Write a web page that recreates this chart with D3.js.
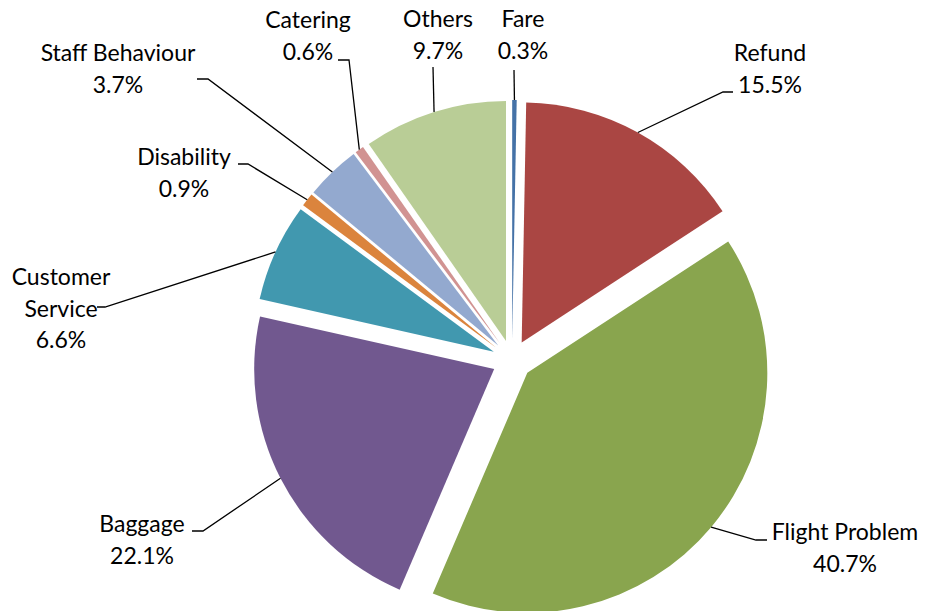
<!DOCTYPE html>
<html>
<head>
<meta charset="utf-8">
<script src="https://cdn.jsdelivr.net/npm/d3@7"></script>
<style>
  html, body { margin: 0; padding: 0; background: #ffffff; }
  svg { display: block; }
  text { font-family: Lato, "Open Sans", sans-serif; font-size: 23px; fill: #000; }
</style>
</head>
<body>
<svg id="chart" width="925" height="611"></svg>
<script>
// Complaint categories, clockwise from 12 o'clock
const categories = ["Fare", "Refund", "Flight Problem", "Baggage", "Customer Service",
                    "Disability", "Staff Behaviour", "Catering", "Others"];
const shares = [0.3, 15.5, 40.7, 22.1, 6.6, 0.9, 3.7, 0.6, 9.7];
const labelLines = [["Fare"], ["Refund"], ["Flight Problem"], ["Baggage"], ["Customer", "Service"],
                    ["Disability"], ["Staff Behaviour"], ["Catering"], ["Others"]];
const colors = ["#4572A7", "#AA4643", "#89A54E", "#71588F", "#4198AF",
                "#DB843D", "#93A9CF", "#D19392", "#B9CD96"];

// Label layout: text centre x, first baseline y, and leader start / elbow points
const labelLayout = [
  { x: 523, y: 27,  start: [514, 70],  elbow: null },
  { x: 770, y: 61,  start: [733, 92],  elbow: [723, 92] },
  { x: 845, y: 540, start: [767, 540], elbow: [756, 540] },
  { x: 142, y: 532, start: [192, 531], elbow: [203, 531] },
  { x: 61,  y: 285, start: [97, 307],  elbow: [105, 307] },
  { x: 184, y: 165, start: [238, 164], elbow: [248, 164] },
  { x: 118, y: 61,  start: [197, 79],  elbow: [208, 79] },
  { x: 308, y: 28,  start: [338, 60],  elbow: [349, 60] },
  { x: 438, y: 27,  start: [433, 67],  elbow: null }
];

const cx = 512, cy = 360, radius = 240, explode = 20, lineGap = 31.5;

const svg = d3.select("#chart");
const data = categories.map((c, i) => ({ name: c, value: shares[i], i }));

const pie = d3.pie().sort(null).value(d => d.value).startAngle(0).endAngle(2 * Math.PI);
const arc = d3.arc().innerRadius(0).outerRadius(radius);
const arcs = pie(data);

const root = svg.append("g").attr("transform", `translate(${cx},${cy})`);

// Each slice is pulled out along its bisector
arcs.forEach(a => {
  const mid = (a.startAngle + a.endAngle) / 2;
  a.dx = explode * Math.sin(mid);
  a.dy = -explode * Math.cos(mid);
  a.tipX = cx + a.dx + radius * Math.sin(mid);
  a.tipY = cy + a.dy - radius * Math.cos(mid);
});

root.selectAll("path.slice")
  .data(arcs)
  .join("path")
  .attr("class", "slice")
  .attr("d", arc)
  .attr("transform", d => `translate(${d.dx},${d.dy})`)
  .attr("fill", d => colors[d.data.i]);

// Leader lines from label to slice edge
const lineGen = d3.line();
svg.selectAll("path.leader")
  .data(arcs)
  .join("path")
  .attr("class", "leader")
  .attr("d", d => {
    const L = labelLayout[d.data.i];
    const pts = [L.start];
    if (L.elbow) pts.push(L.elbow);
    pts.push([d.tipX, d.tipY]);
    return lineGen(pts);
  })
  .attr("fill", "none")
  .attr("stroke", "#000")
  .attr("stroke-width", 1.3);

// Labels: category name(s) then percentage
const fmt = d3.format(".1f");
svg.selectAll("text.label")
  .data(arcs)
  .join("text")
  .attr("class", "label")
  .attr("text-anchor", "middle")
  .each(function (d) {
    const L = labelLayout[d.data.i];
    const lines = labelLines[d.data.i].concat([fmt(d.data.value) + "%"]);
    const t = d3.select(this);
    lines.forEach((s, k) => {
      t.append("tspan").attr("x", L.x).attr("y", L.y + k * lineGap).text(s);
    });
  });
</script>
</body>
</html>
